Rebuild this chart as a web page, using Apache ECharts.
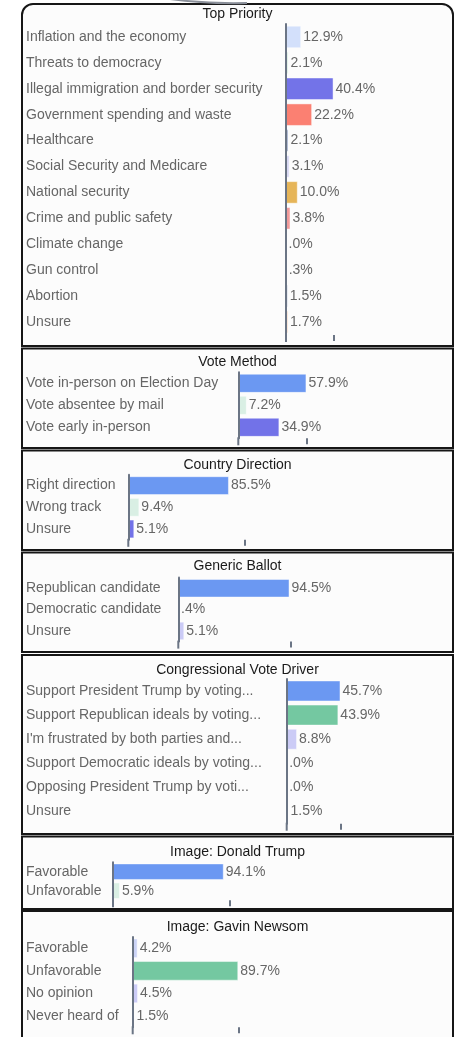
<!DOCTYPE html>
<html>
<head>
<meta charset="utf-8">
<script src="https://cdn.jsdelivr.net/npm/echarts@6/dist/echarts.min.js"></script>
<style>
html,body{margin:0;padding:0;background:#fff;}
#c{width:454px;height:1037px;}
</style>
</head>
<body>
<div id="c"></div>
<script>
// ---- Data ----
const titles = ['Top Priority','Vote Method','Country Direction','Generic Ballot','Congressional Vote Driver','Image: Donald Trump','Image: Gavin Newsom'];

const topPriorityCats = ['Inflation and the economy','Threats to democracy','Illegal immigration and border security','Government spending and waste','Healthcare','Social Security and Medicare','National security','Crime and public safety','Climate change','Gun control','Abortion','Unsure'];
const topPriorityVals = [12.9,2.1,40.4,22.2,2.1,3.1,10.0,3.8,0.0,0.3,1.5,1.7];

const voteMethodCats = ['Vote in-person on Election Day','Vote absentee by mail','Vote early in-person'];
const voteMethodVals = [57.9,7.2,34.9];

const directionCats = ['Right direction','Wrong track','Unsure'];
const directionVals = [85.5,9.4,5.1];

const ballotCats = ['Republican candidate','Democratic candidate','Unsure'];
const ballotVals = [94.5,0.4,5.1];

const driverCats = ['Support President Trump by voting...','Support Republican ideals by voting...',"I'm frustrated by both parties and...",'Support Democratic ideals by voting...','Opposing President Trump by voti...','Unsure'];
const driverVals = [45.7,43.9,8.8,0.0,0.0,1.5];

const trumpCats = ['Favorable','Unfavorable'];
const trumpVals = [94.1,5.9];

const newsomCats = ['Favorable','Unfavorable','No opinion','Never heard of'];
const newsomVals = [4.2,89.7,4.5,1.5];

// single x-axis tick shown under each panel
const tickValues = [40.4,57.9,99.0,95.7,45.8,98.8,89.7];

const cats = [topPriorityCats,voteMethodCats,directionCats,ballotCats,driverCats,trumpCats,newsomCats];
const vals = [topPriorityVals,voteMethodVals,directionVals,ballotVals,driverVals,trumpVals,newsomVals];

// ---- Styles / layout ----
const colors = [
  ['#d3e0fb','#d9efe3','#7373e8','#fb8072','#9aa8c8','#d8d8f4','#e6b558','#f29a9a','#d0d0d0','#d0d0d0','#7e95bd','#f0b080'],
  ['#6b98f2','#d9efe4','#7272e8'],
  ['#6b98f2','#d9efe4','#7272e8'],
  ['#6b98f2','#d9efe4','#cbcbf6'],
  ['#6b98f2','#74c8a1','#cbcbf6','#d0d0d0','#d0d0d0','#9aa8c0'],
  ['#6b98f2','#d9efe4'],
  ['#cbd3f6','#74c8a1','#cbcbf6','#b0b8d0']
];
const layout = [
  {pTop:4,   pBot:346,  tY:14,  gTop:24.0,  gH:310.9, left:286},
  {pTop:348.5,pBot:448, tY:362, gTop:372.3, gH:66,    left:238.3},
  {pTop:450.5,pBot:550, tY:465.3,gTop:474.8,gH:65,    left:128.3},
  {pTop:552.5,pBot:652, tY:566.5,gTop:577.6,gH:64,    left:178.3},
  {pTop:655, pBot:834,  tY:670, gTop:678.9, gH:144.8, left:286.7},
  {pTop:836.5,pBot:909, tY:851.7,gTop:862.2,gH:38,    left:113},
  {pTop:911, pBot:1050, tY:927.3,gTop:937,  gH:90.3,  left:132.7}
];
const PX_PER_UNIT = 1.177;
const FONT = "'Liberation Sans', Arial, sans-serif";
const AXIS_COLOR = '#6b7585';

const grids=[], xAxes=[], yAxes=[], series=[], graphics=[];

layout.forEach((L,i)=>{
  // panel box
  graphics.push({
    type:'rect', z:-10, silent:true,
    shape:{x:22, y:L.pTop, width:431, height:L.pBot-L.pTop, r: i===0?[11,11,0,0]:0},
    style:{fill:'#fcfcfc', stroke:'#161616', lineWidth:2}
  });
  graphics.push({
    type:'text', z:10,
    style:{text:titles[i], x:237.5, y:L.tY, textAlign:'center', textVerticalAlign:'middle',
      font:'14px '+FONT, fill:'#1a1a1a'}
  });
  // y-axis line extension below grid
  graphics.push({
    type:'line', z:10, silent:true,
    shape:{x1:L.left, y1:L.gTop+L.gH-1, x2:L.left, y2:L.gTop+L.gH+7},
    style:{stroke:AXIS_COLOR, lineWidth:2}
  });
  grids.push({left:L.left, top:L.gTop, width:100*PX_PER_UNIT, height:L.gH, containLabel:false});
  xAxes.push({
    type:'value', gridIndex:i, min:0, max:100, position:'bottom',
    axisLine:{show:false}, splitLine:{show:false}, axisLabel:{show:false},
    axisTick:{show:true, length:6, inside:false, customValues:[tickValues[i]], lineStyle:{color:AXIS_COLOR, width:2}}
  });
  yAxes.push({
    type:'category', gridIndex:i, inverse:true, data:cats[i], z:10,
    axisLine:{show:true, lineStyle:{color:AXIS_COLOR, width:2}},
    axisTick:{show:false},
    axisLabel:{align:'left', margin:L.left-26, color:'#666', fontSize:14, fontFamily:FONT}
  });
  series.push({
    type:'bar', xAxisIndex:i, yAxisIndex:i,
    barCategoryGap:'13%',
    data: vals[i].map((v,j)=>({value:v, itemStyle:{color:colors[i][j]}})),
    itemStyle:{borderColor:'rgba(255,255,255,0.45)', borderWidth:1},
    label:{show:true, position:'right', distance:2, color:'#666', fontSize:14, fontFamily:FONT,
      formatter:p=>p.value.toFixed(1).replace(/^0/,'')+'%'},
    animation:false
  });
});

// small connector curve at very top
graphics.push({
  type:'bezierCurve', z:5, silent:true,
  shape:{x1:170, y1:-1, x2:247, y2:3, cpx1:205, cpy1:4},
  style:{stroke:'#8a8f99', lineWidth:2, fill:null}
});

const chart = echarts.init(document.getElementById('c'), null, {renderer:'canvas'});
chart.setOption({
  backgroundColor:'#ffffff',
  animation:false,
  textStyle:{fontFamily:FONT},
  grid:grids, xAxis:xAxes, yAxis:yAxes, series:series,
  graphic:{elements:graphics}
});
</script>
</body>
</html>
